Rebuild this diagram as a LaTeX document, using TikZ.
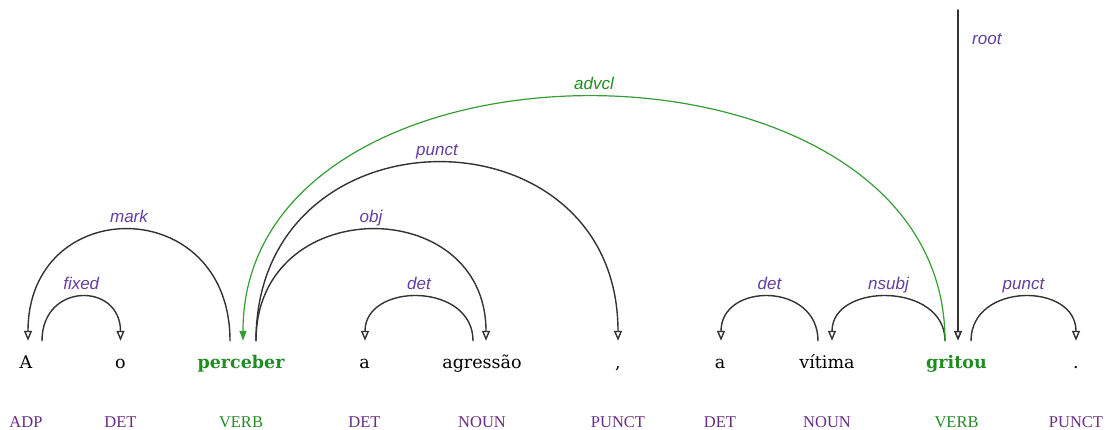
\documentclass[tikz,border=0pt]{standalone}
\usepackage{fontspec}
\setmainfont{Liberation Serif}
\setsansfont{Liberation Sans}
\newfontfamily\wordfont{DejaVu Serif}
\usetikzlibrary{arrows.meta}
\definecolor{relviolet}{RGB}{98,62,160}
\definecolor{tagviolet}{RGB}{104,44,132}
\definecolor{verbgreen}{RGB}{34,140,34}
\definecolor{arcgreen}{RGB}{52,158,52}
\tikzset{
  tok/.style={anchor=base, font=\wordfont\fontsize{17.5}{20}\selectfont, text height=14pt, text depth=4pt, inner xsep=0pt, inner ysep=13pt},
  head/.style={tok, text=verbgreen, font=\wordfont\bfseries\fontsize{17.5}{20}\selectfont},
  tag/.style={anchor=base, font=\fontsize{16.5}{20}\selectfont, text=tagviolet, inner sep=0pt},
  headtag/.style={tag, text=verbgreen},
  dep/.style={draw=black!80, line width=1.4pt, -{Triangle[open, length=10pt, width=8pt]}},
  rel/.style={anchor=base, yshift=7.5pt, font=\sffamily\itshape\fontsize{17}{20}\selectfont, text=relviolet, inner sep=0pt}
}
\begin{document}
\begin{tikzpicture}[x=1pt,y=-1pt,line cap=round,line join=round]
\useasboundingbox (0,0) rectangle (1105,430);
% words and their tags
\foreach \i/\x/\w/\t/\s/\p in {1/26/A/ADP/tok/tag,2/120.5/o/DET/tok/tag,3/241/perceber/VERB/head/headtag,
  4/364.5/a/DET/tok/tag,5/482/agressão/NOUN/tok/tag,6/618/{,}/PUNCT/tok/tag,7/720/a/DET/tok/tag,
  8/827/vítima/NOUN/tok/tag,9/956.5/gritou/VERB/head/headtag,10/1076/./PUNCT/tok/tag}{
  \node[\s] (w\i) at (\x,368) {\w};
  \node[\p] (p\i) at ([yshift=-59pt]w\i.base) {\t};
}
% dependency arcs: head/shift, dependent/shift, control height, relation
\foreach \a/\da/\b/\db/\h/\r in {1/16/2/0/58.7/fixed,3/-11/1/2/148/mark,3/15/5/4/148/obj,
  5/-9/4/0.5/58.7/det,3/15/6/0/237.3/punct,8/-9/7/1/58.7/det,9/-11.5/8/5/58.7/nsubj,9/14.5/10/0/58.7/punct}{
  \draw[dep] ([xshift=\da pt]w\a.north) .. controls +(0,-\h) and +(0,-\h) .. ([xshift=\db pt]w\b.north)
    node[rel, pos=0.5] (r\a\b) {\r};
}
\draw[dep, draw=arcgreen, line width=1.2pt, -{Triangle[length=10pt, width=7pt]}, arcgreen]
  ([xshift=-11.5pt]w9.north) .. controls +(0,-325.3) and +(0,-325.3) .. ([xshift=2pt]w3.north)
  node[rel, pos=0.5, text=verbgreen] (advcl) {advcl};
% root
\coordinate (top) at (958,10);
\draw[dep, line width=1.6pt] (top) -- ([xshift=1.5pt]w9.north);
\node[rel, anchor=base west] (rootrel) at (972,52.5) {root};
\end{tikzpicture}
\end{document}
